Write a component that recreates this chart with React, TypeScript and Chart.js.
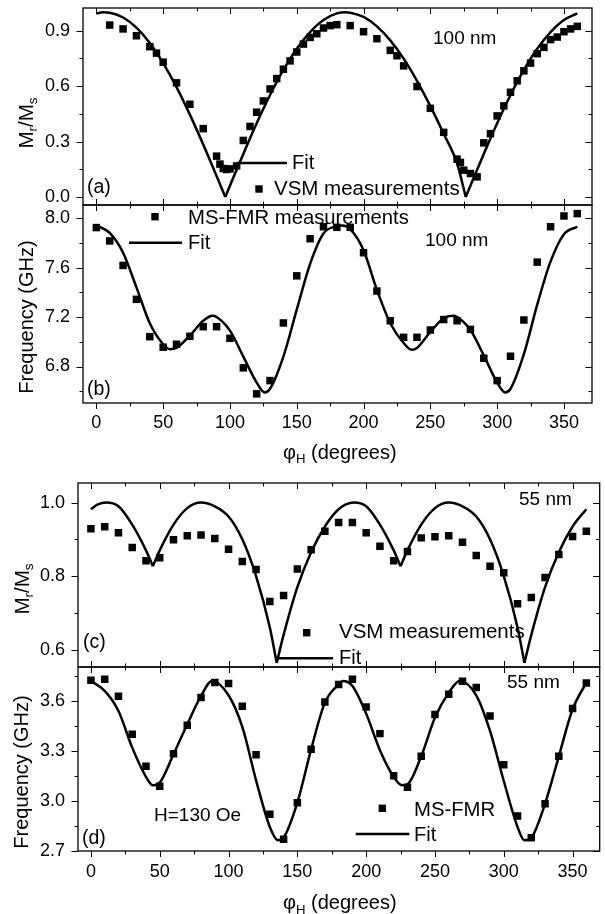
import React, { useEffect, useRef } from 'react';
import { Chart, registerables } from 'chart.js';

Chart.register(...registerables);

const W = 605;
const H = 914;
const FONT = '"Liberation Sans", Arial, Helvetica, sans-serif';

// ---------- Panel (a): remanence ratio, 100 nm ----------
const A_VSM_X = [10, 20, 30, 40, 45, 50, 60, 70, 80, 90, 92.5, 95, 97.5, 100, 105, 110, 115, 120, 125, 130, 135, 140, 145, 150, 155, 160, 165, 170, 175, 180, 190, 200, 210, 220, 225, 230, 240, 250, 260, 270, 272.5, 275, 280, 285, 290, 295, 300, 305, 310, 315, 320, 325, 330, 335, 340, 345, 350, 355, 360];
const A_VSM_Y = [0.931, 0.91, 0.873, 0.814, 0.779, 0.73, 0.618, 0.502, 0.37, 0.221, 0.178, 0.154, 0.149, 0.152, 0.168, 0.306, 0.382, 0.459, 0.52, 0.585, 0.641, 0.692, 0.737, 0.785, 0.828, 0.864, 0.884, 0.915, 0.928, 0.933, 0.928, 0.895, 0.857, 0.794, 0.765, 0.71, 0.598, 0.48, 0.35, 0.205, 0.187, 0.145, 0.127, 0.109, 0.293, 0.343, 0.439, 0.493, 0.567, 0.629, 0.683, 0.725, 0.776, 0.81, 0.852, 0.866, 0.895, 0.91, 0.924];
const A_FIT1_X = [0, 5, 10, 20, 30, 40, 50, 60, 70, 80, 90, 96.5];
const A_FIT1_Y = [0.994, 1.0, 0.998, 0.972, 0.917, 0.834, 0.725, 0.595, 0.446, 0.284, 0.113, 0];
const A_FIT2_X = [96.5, 100, 110, 120, 130, 140, 150, 160, 170, 180, 186.5, 190, 200, 210, 220, 230, 240, 250, 260, 270, 276.5];
const A_FIT2_Y = [0, 0.061, 0.233, 0.399, 0.552, 0.688, 0.803, 0.893, 0.958, 0.994, 1.0, 0.998, 0.975, 0.924, 0.848, 0.749, 0.629, 0.492, 0.342, 0.182, 0];
const A_FIT3_X = [276.5, 280, 290, 300, 310, 320, 330, 340, 350, 360];
const A_FIT3_Y = [0, 0.061, 0.233, 0.399, 0.552, 0.688, 0.803, 0.893, 0.958, 0.994];
const A_Y_MAJOR = [0, 0.3, 0.6, 0.9];
const A_Y_MINOR = [0.15, 0.45, 0.75];

// ---------- Panel (b): MS-FMR frequency, 100 nm ----------
const B_FMR_X = [0, 10, 20, 30, 40, 50, 60, 70, 80, 90, 100, 110, 120, 130, 140, 150, 160, 170, 180, 190, 200, 210, 220, 230, 240, 250, 260, 270, 280, 290, 300, 310, 320, 330, 340, 350, 360];
const B_FMR_Y = [7.923, 7.815, 7.617, 7.343, 7.041, 6.956, 6.98, 7.044, 7.122, 7.122, 7.028, 6.789, 6.579, 6.686, 7.152, 7.533, 7.833, 7.93, 7.925, 7.925, 7.72, 7.41, 7.17, 7.036, 7.036, 7.095, 7.18, 7.17, 7.1, 6.867, 6.686, 6.883, 7.176, 7.644, 7.93, 8.017, 8.036];
const B_FIT_X = [0, 10, 20, 30, 40, 50, 55, 60, 70, 80, 87, 90, 100, 110, 120, 126, 130, 140, 150, 160, 170, 180, 184, 190, 200, 210, 220, 230, 236, 240, 250, 260, 267, 270, 280, 290, 300, 306, 310, 320, 330, 340, 350, 360];
const B_FIT_Y = [7.94, 7.88, 7.72, 7.44, 7.15, 6.98, 6.94, 6.95, 7.05, 7.17, 7.21, 7.2, 7.09, 6.88, 6.67, 6.59, 6.62, 6.88, 7.26, 7.63, 7.875, 7.935, 7.94, 7.91, 7.74, 7.42, 7.15, 6.99, 6.935, 6.95, 7.08, 7.19, 7.21, 7.2, 7.095, 6.89, 6.67, 6.59, 6.62, 6.9, 7.3, 7.65, 7.87, 7.93];
const B_Y_MAJOR = [6.8, 7.2, 7.6, 8.0];
const B_Y_MINOR = [6.6, 7.0, 7.4, 7.8];

// ---------- Panel (c): remanence ratio, 55 nm ----------
const C_VSM_X = [0, 10, 20, 30, 40, 50, 60, 70, 80, 90, 100, 110, 120, 130, 140, 150, 160, 170, 180, 190, 200, 210, 220, 230, 240, 250, 260, 270, 280, 290, 300, 310, 320, 330, 340, 350, 360];
const C_VSM_Y = [0.929, 0.934, 0.918, 0.878, 0.842, 0.85, 0.899, 0.91, 0.912, 0.902, 0.873, 0.84, 0.818, 0.731, 0.747, 0.819, 0.872, 0.922, 0.946, 0.946, 0.918, 0.881, 0.842, 0.867, 0.904, 0.907, 0.91, 0.892, 0.856, 0.827, 0.809, 0.725, 0.742, 0.796, 0.859, 0.908, 0.922];
const C_FIT1_X = [0, 5, 11, 20, 30, 40, 45];
const C_FIT1_Y = [0.982, 0.995, 1.0, 0.99, 0.94, 0.87, 0.827];
const C_FIT2_X = [45, 50, 60, 70, 80, 90, 100, 110, 120, 130, 135];
const C_FIT2_Y = [0.827, 0.87, 0.94, 0.985, 1.0, 0.99, 0.962, 0.9, 0.8, 0.66, 0.564];
const C_FIT3_X = [135, 140, 150, 160, 170, 180, 191, 200, 210, 220, 225];
const C_FIT3_Y = [0.564, 0.64, 0.77, 0.865, 0.935, 0.982, 1.0, 0.99, 0.94, 0.87, 0.827];
const C_FIT4_X = [225, 230, 240, 250, 260, 270, 280, 290, 300, 310, 315];
const C_FIT4_Y = [0.827, 0.87, 0.94, 0.985, 1.0, 0.99, 0.962, 0.9, 0.8, 0.66, 0.564];
const C_FIT5_X = [315, 320, 330, 340, 350, 360];
const C_FIT5_Y = [0.564, 0.64, 0.77, 0.865, 0.935, 0.982];
const C_Y_MAJOR = [0.6, 0.8, 1.0];
const C_Y_MINOR = [0.7, 0.9];

// ---------- Panel (d): MS-FMR frequency, 55 nm ----------
const D_FMR_X = [0, 10, 20, 30, 40, 50, 60, 70, 80, 90, 100, 110, 120, 130, 140, 150, 160, 170, 180, 190, 200, 210, 220, 230, 240, 250, 260, 270, 280, 290, 300, 310, 320, 330, 340, 350, 360];
const D_FMR_Y = [3.724, 3.73, 3.628, 3.4, 3.208, 3.088, 3.284, 3.454, 3.62, 3.71, 3.704, 3.568, 3.278, 2.92, 2.77, 2.99, 3.31, 3.594, 3.698, 3.73, 3.564, 3.404, 3.152, 3.082, 3.268, 3.518, 3.64, 3.718, 3.68, 3.51, 3.218, 2.91, 2.78, 2.984, 3.268, 3.554, 3.708];
const D_FIT_X = [0, 10, 20, 30, 40, 45, 50, 60, 70, 80, 88, 100, 110, 120, 130, 136, 140, 150, 160, 170, 180, 183, 190, 200, 210, 220, 226, 230, 240, 250, 260, 268, 280, 290, 300, 310, 315, 320, 330, 340, 350, 360];
const D_FIT_Y = [3.72, 3.66, 3.54, 3.32, 3.145, 3.094, 3.11, 3.28, 3.46, 3.63, 3.72, 3.634, 3.444, 3.124, 2.844, 2.764, 2.78, 2.99, 3.31, 3.59, 3.7, 3.72, 3.69, 3.524, 3.304, 3.144, 3.094, 3.1, 3.268, 3.5, 3.65, 3.72, 3.634, 3.42, 3.12, 2.844, 2.764, 2.78, 2.984, 3.268, 3.55, 3.71];
const D_Y_MAJOR = [2.7, 3.0, 3.3, 3.6];
const D_Y_MINOR = [2.85, 3.15, 3.45, 3.75];

// ---------- shared angle axis ----------
const X_MAJOR = [0, 50, 100, 150, 200, 250, 300, 350];
const X_MINOR = [25, 75, 125, 175, 225, 275, 325];

type Pt = { x: number; y: number };
type Part = [string, boolean];
type TextItem = { parts: Part[]; x: number; y: number; size: number; rotate?: boolean; align?: 'left' | 'center' };
type Mark = { kind: 'square' | 'line'; x: number; y: number; x2?: number };
type Panel = {
  top: number; bottom: number; left: number; right: number;
  xMin: number; xMax: number; yMin: number; yMax: number;
  yMajor: number[]; yMinor: number[];
  showX: boolean; yPad: number; xPad: number; bottomOut: boolean;
  pts: Pt[]; fits: Pt[][];
  texts: TextItem[]; marks: Mark[];
};

const zip = (xs: number[], ys: number[]): Pt[] => xs.map((x, i) => ({ x, y: ys[i] }));

const MRMS: Part[] = [['M', false], ['r', true], ['/M', false], ['s', true]];
const PHI: Part[] = [['φ', false], ['H', true], [' (degrees)', false]];
const T = (s: string): Part[] => [[s, false]];

const PANELS: Panel[] = [
  {
    top: 8, bottom: 205, left: 83, right: 592,
    xMin: -10, xMax: 371, yMin: -0.0435, yMax: 1.0233,
    yMajor: A_Y_MAJOR, yMinor: A_Y_MINOR, showX: false, yPad: 13, xPad: 9, bottomOut: false,
    pts: zip(A_VSM_X, A_VSM_Y),
    fits: [zip(A_FIT1_X, A_FIT1_Y), zip(A_FIT2_X, A_FIT2_Y), zip(A_FIT3_X, A_FIT3_Y)],
    texts: [
      { parts: T('100 nm'), x: 433, y: 39, size: 19 },
      { parts: T('(a)'), x: 87, y: 188, size: 19.5 },
      { parts: T('Fit'), x: 292, y: 163, size: 20 },
      { parts: T('VSM measurements'), x: 274, y: 189.5, size: 20.5 },
      { parts: MRMS, x: 27, y: 123, size: 20.5, rotate: true, align: 'center' },
    ],
    marks: [
      { kind: 'line', x: 237, x2: 287, y: 163 },
      { kind: 'square', x: 259, y: 189 },
    ],
  },
  {
    top: 205, bottom: 403, left: 83, right: 592,
    xMin: -10, xMax: 371, yMin: 6.505, yMax: 8.1056,
    yMajor: B_Y_MAJOR, yMinor: B_Y_MINOR, showX: true, yPad: 13, xPad: 9, bottomOut: true,
    pts: zip(B_FMR_X, B_FMR_Y),
    fits: [zip(B_FIT_X, B_FIT_Y)],
    texts: [
      { parts: T('MS-FMR measurements'), x: 188, y: 218, size: 20.3 },
      { parts: T('Fit'), x: 188, y: 243, size: 20 },
      { parts: T('100 nm'), x: 425, y: 241, size: 19 },
      { parts: T('(b)'), x: 87, y: 390, size: 19.5 },
      { parts: T('Frequency (GHz)'), x: 27, y: 317, size: 20, rotate: true, align: 'center' },
      { parts: PHI, x: 283, y: 453, size: 20 },
    ],
    marks: [
      { kind: 'square', x: 155, y: 216.7 },
      { kind: 'line', x: 129, x2: 182, y: 242.7 },
    ],
  },
  {
    top: 483, bottom: 667, left: 78, right: 603.5,
    xMin: -9.4, xMax: 369.7, yMin: 0.5527, yMax: 1.0533,
    yMajor: C_Y_MAJOR, yMinor: C_Y_MINOR, showX: false, yPad: 13, xPad: 10, bottomOut: false,
    pts: zip(C_VSM_X, C_VSM_Y),
    fits: [zip(C_FIT1_X, C_FIT1_Y), zip(C_FIT2_X, C_FIT2_Y), zip(C_FIT3_X, C_FIT3_Y), zip(C_FIT4_X, C_FIT4_Y), zip(C_FIT5_X, C_FIT5_Y)],
    texts: [
      { parts: T('55 nm'), x: 519, y: 500, size: 19 },
      { parts: T('(c)'), x: 83, y: 643, size: 19.5 },
      { parts: T('VSM measurements'), x: 339, y: 632.5, size: 20.5 },
      { parts: T('Fit'), x: 339, y: 658, size: 20 },
      { parts: MRMS, x: 23, y: 589, size: 20.5, rotate: true, align: 'center' },
    ],
    marks: [
      { kind: 'square', x: 306.7, y: 632.7 },
      { kind: 'line', x: 278, x2: 333, y: 658.3 },
    ],
  },
  {
    top: 667, bottom: 851, left: 78, right: 603.5,
    xMin: -9.4, xMax: 369.7, yMin: 2.7, yMax: 3.8036,
    yMajor: D_Y_MAJOR, yMinor: D_Y_MINOR, showX: true, yPad: 13, xPad: 10, bottomOut: true,
    pts: zip(D_FMR_X, D_FMR_Y),
    fits: [zip(D_FIT_X, D_FIT_Y)],
    texts: [
      { parts: T('55 nm'), x: 507, y: 683, size: 19 },
      { parts: T('H=130 Oe'), x: 154, y: 815.5, size: 19 },
      { parts: T('(d)'), x: 82, y: 839, size: 19.5 },
      { parts: T('MS-FMR'), x: 414, y: 810, size: 20.3 },
      { parts: T('Fit'), x: 414, y: 835, size: 20 },
      { parts: T('Frequency (GHz)'), x: 22, y: 772, size: 20, rotate: true, align: 'center' },
      { parts: PHI, x: 283, y: 903.5, size: 20 },
    ],
    marks: [
      { kind: 'square', x: 382.3, y: 808.3 },
      { kind: 'line', x: 355.7, x2: 409.3, y: 834 },
    ],
  },
];

function drawRich(ctx: CanvasRenderingContext2D, item: TextItem) {
  const size = item.size;
  const sub = size * 0.66;
  ctx.save();
  ctx.fillStyle = '#000';
  ctx.textBaseline = 'middle';
  ctx.textAlign = 'left';
  const widths = item.parts.map(([t, s]) => {
    ctx.font = `${s ? sub : size}px ${FONT}`;
    return ctx.measureText(t).width;
  });
  const total = widths.reduce((a, b) => a + b, 0);
  ctx.translate(item.x, item.y);
  if (item.rotate) ctx.rotate(-Math.PI / 2);
  let cx = item.align === 'center' ? -total / 2 : 0;
  item.parts.forEach(([t, s], i) => {
    ctx.font = `${s ? sub : size}px ${FONT}`;
    ctx.fillText(t, cx, s ? size * 0.33 : 0);
    cx += widths[i];
  });
  ctx.restore();
}

function makePlugin(p: Panel) {
  return {
    id: 'panelDeco',
    afterDraw(chart: any) {
      const ctx: CanvasRenderingContext2D = chart.ctx;
      const xs = chart.scales.x;
      const ys = chart.scales.y;
      const { left, right, top, bottom } = chart.chartArea;
      ctx.save();
      ctx.strokeStyle = '#000';
      ctx.lineWidth = 1;
      const line = (x1: number, y1: number, x2: number, y2: number) => {
        ctx.beginPath();
        ctx.moveTo(x1, y1);
        ctx.lineTo(x2, y2);
        ctx.stroke();
      };
      const xt: [number, number][] = [...X_MAJOR.map((v) => [v, 6] as [number, number]), ...X_MINOR.map((v) => [v, 3.5] as [number, number])];
      for (const [v, len] of xt) {
        const px = Math.round(xs.getPixelForValue(v)) + 0.5;
        line(px, top, px, top + len);
        if (p.bottomOut) line(px, bottom, px, bottom + len);
        else line(px, bottom, px, bottom - len);
      }
      const yt: [number, number][] = [...p.yMajor.map((v) => [v, 6.5] as [number, number]), ...p.yMinor.map((v) => [v, 3.5] as [number, number])];
      for (const [v, len] of yt) {
        const py = Math.round(ys.getPixelForValue(v)) + 0.5;
        line(left - len, py, left, py);
        line(right - len, py, right, py);
      }
      ctx.lineWidth = 1.3;
      ctx.strokeRect(left, top, right - left, bottom - top);
      // legend marks
      ctx.fillStyle = '#000';
      for (const m of p.marks) {
        if (m.kind === 'square') {
          ctx.fillRect(m.x - 3.7, m.y - 3.7, 7.4, 7.4);
        } else {
          ctx.lineWidth = 2.5;
          line(m.x, m.y, m.x2 as number, m.y);
        }
      }
      ctx.restore();
      for (const t of p.texts) drawRich(ctx, t);
    },
  };
}

function PanelChart({ p }: { p: Panel }) {
  const ref = useRef<HTMLCanvasElement | null>(null);
  useEffect(() => {
    if (!ref.current) return;
    const datasets: any[] = [
      {
        type: 'scatter',
        data: p.pts,
        pointStyle: 'rect',
        pointRadius: 5.3,
        pointBackgroundColor: '#000',
        pointBorderWidth: 0,
        showLine: false,
      },
      ...p.fits.map((seg) => ({
        type: 'line',
        data: seg,
        borderColor: '#000',
        borderWidth: 2.5,
        pointRadius: 0,
        cubicInterpolationMode: 'monotone',
        fill: false,
      })),
    ];
    const chart = new Chart(ref.current, {
      type: 'scatter',
      data: { datasets },
      options: {
        responsive: false,
        animation: false,
        events: [],
        layout: { padding: { top: p.top, right: W - p.right, left: 0, bottom: 0 } },
        plugins: { legend: { display: false }, tooltip: { enabled: false }, title: { display: false } },
        scales: {
          x: {
            type: 'linear',
            min: p.xMin,
            max: p.xMax,
            grid: { display: false, drawTicks: false },
            border: { display: false },
            afterBuildTicks: (s: any) => {
              s.ticks = X_MAJOR.map((v) => ({ value: v }));
            },
            afterFit: (s: any) => {
              s.height = H - p.bottom;
              s.paddingLeft = 0;
              s.paddingRight = 0;
            },
            ticks: {
              display: p.showX,
              padding: p.xPad,
              maxRotation: 0,
              autoSkip: false,
              color: '#000',
              font: { family: FONT, size: 18 },
              callback: (v: any) => String(v),
            },
          },
          y: {
            type: 'linear',
            min: p.yMin,
            max: p.yMax,
            grid: { display: false, drawTicks: false },
            border: { display: false },
            afterBuildTicks: (s: any) => {
              s.ticks = p.yMajor.map((v) => ({ value: v }));
            },
            afterFit: (s: any) => {
              s.width = p.left;
              s.paddingTop = 0;
              s.paddingBottom = 0;
            },
            ticks: {
              padding: p.yPad,
              autoSkip: false,
              color: '#000',
              font: { family: FONT, size: 18 },
              callback: (v: any) => Number(v).toFixed(1),
            },
          },
        },
      },
      plugins: [makePlugin(p)],
    } as any);
    return () => chart.destroy();
  }, [p]);
  return (
    <canvas
      ref={ref}
      width={W}
      height={H}
      style={{ position: 'absolute', left: 0, top: 0, width: W, height: H }}
    />
  );
}

export default function App() {
  return (
    <div style={{ position: 'absolute', left: 0, top: 0, width: W, height: H, background: '#fff', overflow: 'hidden' }}>
      {PANELS.map((p, i) => (
        <PanelChart key={i} p={p} />
      ))}
    </div>
  );
}
